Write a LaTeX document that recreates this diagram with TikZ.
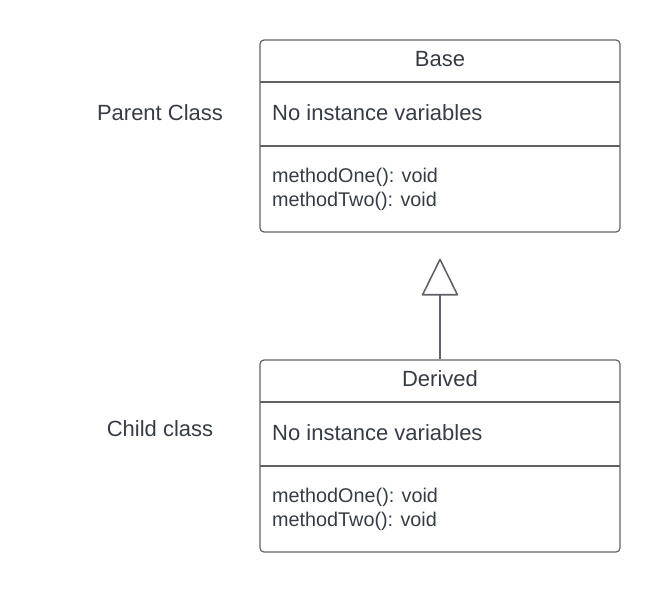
\documentclass[tikz,border=0pt]{standalone}
\usepackage{fontspec}
\setmainfont{Liberation Sans}
\usepackage{xcolor}
\usepackage{tikz}
\usetikzlibrary{arrows.meta}

\definecolor{umltext}{HTML}{363C45}
\definecolor{umlline}{HTML}{5F6369}

\tikzset{
  classbox/.style={draw=umlline,line width=1.2bp,rounded corners=4bp,minimum width=360bp,minimum height=192bp,inner sep=0pt},
  classtext/.style={text=umltext,inner sep=0pt,font=\fontsize{22bp}{26bp}\selectfont},
  methodtext/.style={text=umltext,inner sep=0pt,align=left,anchor=west,font=\fontsize{19.8bp}{24bp}\selectfont},
}

\begin{document}
\begin{tikzpicture}[x=1bp,y=1bp]
\pgfmathsetmacro{\boxl}{260}
\pgfmathsetmacro{\boxr}{620}
\useasboundingbox (0,0) rectangle (660,-592);
% Parent
\node[classbox] (base) at (440,-136) {};
\draw[umlline,line width=1.2bp] (\boxl,-82) -- (\boxr,-82);
\draw[umlline,line width=1.2bp] (\boxl,-146) -- (\boxr,-146);
\node[classtext] (basename) at (440,-59) {Base};
\node[classtext,anchor=west] (basevars) at (272,-113) {No instance variables};
\node[methodtext] (basemethods) at (272,-189) {methodOne(): void\\methodTwo(): void};
\node[classtext] (parentlbl) at (160,-113) {Parent Class};
% Child
\node[classbox] (derived) at (440,-456) {};
\draw[umlline,line width=1.2bp] (\boxl,-402) -- (\boxr,-402);
\draw[umlline,line width=1.2bp] (\boxl,-466) -- (\boxr,-466);
\node[classtext] (derivedname) at (440,-379) {Derived};
\node[classtext,anchor=west] (derivedvars) at (272,-433) {No instance variables};
\node[methodtext] (derivedmethods) at (272,-509) {methodOne(): void\\methodTwo(): void};
\node[classtext] (childlbl) at (160,-429) {Child class};
% Inheritance
\coordinate (tip) at ([yshift=-26bp]base.south);
\draw[-{Triangle[open,length=38bp,width=37bp,round]},umlline,line width=1.6bp] (derived.north) -- (tip);
\end{tikzpicture}
\end{document}
